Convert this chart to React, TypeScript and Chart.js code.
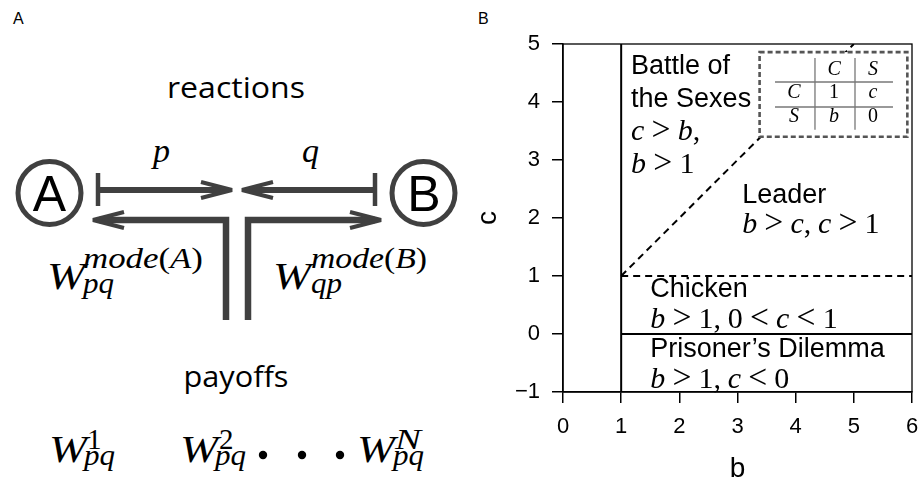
import React, { useEffect, useRef } from "react";
import { Chart, registerables } from "chart.js";

Chart.register(...registerables);

// ---------------- Data (panel B) ----------------
const B_MIN = 0;
const B_MAX = 6;
const C_MIN = -1;
const C_MAX = 5;
const bTicks = [0, 1, 2, 3, 4, 5, 6];
const cTicks = [-1, 0, 1, 2, 3, 4, 5];

// region boundaries in (b, c)
const lineB1 = [{ x: 1, y: -1 }, { x: 1, y: 5 }];
const lineC0 = [{ x: 1, y: 0 }, { x: 6, y: 0 }];
const lineC1 = [{ x: 1, y: 1 }, { x: 6, y: 1 }];
const lineCeqB = [{ x: 1, y: 1 }, { x: 5, y: 5 }];

// region labels
const gameNames = ["Battle of", "the Sexes", "Leader", "Chicken", "Prisoner\u2019s Dilemma"];
const gameConditions = ["c > b,", "b > 1", "b > c, c > 1", "b > 1, 0 < c < 1", "b > 1, c < 0"];

// payoff matrix inset
const payoffHeader = ["C", "S"];
const payoffRows = ["C", "S"];
const payoffCells = [
  ["1", "c"],
  ["b", "0"],
];

// ---------------- Annotation placement (data units) ----------------
const nameAnchors = [
  [1.17, 4.48],
  [1.17, 3.92],
  [3.08, 2.26],
  [1.5, 0.64],
  [1.5, -0.4],
];
const conditionAnchors = [
  [1.17, 3.34],
  [1.17, 2.77],
  [3.08, 1.74],
  [1.5, 0.1],
  [1.5, -0.93],
];
const insetBox = { b0: 3.38, b1: 5.92, c0: 3.4, c1: 4.86 };
const insetColB = [3.97, 4.66, 5.33];
const insetRowC = [4.47, 4.07, 3.66];
const insetHLineC = [4.345, 3.914];
const insetHLineB = [3.645, 5.673];
const insetVLineB = [4.332, 5.02];
const insetVLineC = [3.52, 4.76];

const INK = "#404040";
const SERIF = '"Liberation Serif", serif';
const SANS = '"Liberation Sans", Arial, sans-serif';

function drawMath(ctx: CanvasRenderingContext2D, s: string, x: number, y: number, size: number) {
  let cx = x;
  let prev = "";
  for (const ch of s) {
    if (ch === " ") {
      if (prev === ",") cx += size * 0.22;
      prev = ch;
      continue;
    }
    let pre = 0;
    let post = 0;
    const italic = /[a-zA-Z]/.test(ch);
    let sz = size;
    if (ch === ">" || ch === "<") {
      pre = size * 0.24;
      post = size * 0.24;
      sz = size * 1.12;
    }
    ctx.font = `${italic ? "italic " : ""}${sz}px ${SERIF}`;
    cx += pre;
    ctx.fillText(ch, cx, y);
    cx += ctx.measureText(ch).width + post;
    prev = ch;
  }
}

function drawCentered(ctx: CanvasRenderingContext2D, s: string, x: number, y: number, size: number) {
  const italic = /[a-zA-Z]/.test(s);
  ctx.font = `${italic ? "italic " : ""}${size}px ${SERIF}`;
  ctx.textAlign = "center";
  ctx.fillText(s, x, y);
  ctx.textAlign = "left";
}

const overlayPlugin = {
  id: "overlay",
  afterDatasetsDraw(chart: any) {
    const { ctx, chartArea: a } = chart;
    const X = (v: number) => chart.scales.x.getPixelForValue(v);
    const Y = (v: number) => chart.scales.y.getPixelForValue(v);
    ctx.save();
    // frame
    ctx.strokeStyle = "#000";
    ctx.lineWidth = 1.3;
    ctx.strokeRect(a.left, a.top, a.right - a.left, a.bottom - a.top);

    // inset box
    const bx0 = X(insetBox.b0);
    const bx1 = X(insetBox.b1);
    const by0 = Y(insetBox.c1);
    const by1 = Y(insetBox.c0);
    ctx.fillStyle = "#fff";
    ctx.fillRect(bx0, by0, bx1 - bx0, by1 - by0);
    ctx.setLineDash([5, 3]);
    ctx.strokeStyle = "#555";
    ctx.lineWidth = 2.6;
    ctx.strokeRect(bx0, by0, bx1 - bx0, by1 - by0);
    ctx.setLineDash([]);

    // table lines
    ctx.strokeStyle = "#777";
    ctx.lineWidth = 1.3;
    insetHLineC.forEach((c) => {
      ctx.beginPath();
      ctx.moveTo(X(insetHLineB[0]), Y(c));
      ctx.lineTo(X(insetHLineB[1]), Y(c));
      ctx.stroke();
    });
    insetVLineB.forEach((b) => {
      ctx.beginPath();
      ctx.moveTo(X(b), Y(insetVLineC[1]));
      ctx.lineTo(X(b), Y(insetVLineC[0]));
      ctx.stroke();
    });

    // table text
    ctx.fillStyle = "#000";
    ctx.textBaseline = "alphabetic";
    payoffHeader.forEach((h, j) => drawCentered(ctx, h, X(insetColB[j + 1]), Y(insetRowC[0]), 20));
    payoffRows.forEach((r, i) => {
      drawCentered(ctx, r, X(insetColB[0]), Y(insetRowC[i + 1]), 20);
      payoffCells[i].forEach((v, j) => drawCentered(ctx, v, X(insetColB[j + 1]), Y(insetRowC[i + 1]), 20));
    });

    // region names
    ctx.textAlign = "left";
    gameNames.forEach((n, i) => {
      ctx.font = `27px ${SANS}`;
      ctx.fillText(n, X(nameAnchors[i][0]), Y(nameAnchors[i][1]));
    });
    gameConditions.forEach((s, i) => {
      drawMath(ctx, s, X(conditionAnchors[i][0]), Y(conditionAnchors[i][1]), 30);
    });
    ctx.restore();
  },
};

function PanelB() {
  const ref = useRef<HTMLCanvasElement | null>(null);
  useEffect(() => {
    if (!ref.current) return;
    const lineStyle = {
      showLine: true,
      borderColor: "#000",
      borderWidth: 2,
      pointRadius: 0,
      fill: false,
    };
    const chart = new Chart(ref.current, {
      type: "scatter",
      data: {
        datasets: [
          { ...lineStyle, data: lineB1 },
          { ...lineStyle, data: lineC0 },
          { ...lineStyle, data: lineC1, borderDash: [7, 5] },
          { ...lineStyle, data: lineCeqB, borderDash: [7, 5] },
        ],
      },
      options: {
        animation: false,
        responsive: false,
        events: [],
        layout: { padding: { top: 44, right: 7, left: 0, bottom: 0 } },
        plugins: { legend: { display: false }, tooltip: { enabled: false } },
        scales: {
          x: {
            type: "linear",
            min: B_MIN,
            max: B_MAX,
            afterFit(s: any) {
              s.height = 95;
              s.paddingLeft = 0;
              s.paddingRight = 0;
            },
            afterBuildTicks(s: any) {
              s.ticks = bTicks.map((v) => ({ value: v }));
            },
            ticks: {
              color: "#000",
              font: { family: SANS, size: 22 },
              padding: 11,
              maxRotation: 0,
              callback: (v: any) => String(v).replace("-", "\u2212"),
            },
            grid: { drawOnChartArea: false, drawTicks: true, tickLength: 11, color: "#000", lineWidth: 1.5 },
            border: { display: true, color: "#000", width: 1.5 },
            title: {
              display: true,
              text: "b",
              color: "#000",
              font: { family: SANS, size: 28, lineHeight: 1 },
              padding: { top: 0, bottom: 4 },
            },
          },
          y: {
            type: "linear",
            min: C_MIN,
            max: C_MAX,
            afterFit(s: any) {
              s.width = 93;
              s.paddingTop = 0;
              s.paddingBottom = 0;
            },
            afterBuildTicks(s: any) {
              s.ticks = cTicks.map((v) => ({ value: v }));
            },
            ticks: {
              color: "#000",
              font: { family: SANS, size: 22 },
              padding: 12,
              callback: (v: any) => String(v).replace("-", "\u2212"),
            },
            grid: { drawOnChartArea: false, drawTicks: true, tickLength: 11, color: "#000", lineWidth: 1.5 },
            border: { display: true, color: "#000", width: 1.5 },
            title: {
              display: true,
              text: "c",
              color: "#000",
              font: { family: SANS, size: 28, lineHeight: 1 },
              padding: { top: 4, bottom: 0 },
            },
          },
        },
      } as any,
      plugins: [overlayPlugin],
    });
    return () => chart.destroy();
  }, []);
  return (
    <canvas
      ref={ref}
      width={449}
      height={487}
      style={{ position: "absolute", left: 470, top: 0, width: 449, height: 487 }}
    />
  );
}

function WSym(props: {
  x: number;
  y: number;
  sup: React.ReactNode;
  sub: string;
  supDx: number;
  supDy: number;
  supW?: number;
  subDx: number;
  subDy: number;
  subW?: number;
}) {
  const { x, y, sup, sub, supDx, supDy, supW, subDx, subDy, subW } = props;
  return (
    <g fontFamily={SERIF} fill="#000">
      <text x={x} y={y} fontSize={38} fontStyle="italic" textLength={38} lengthAdjust="spacingAndGlyphs">
        W
      </text>
      <text
        x={x + supDx}
        y={y + supDy}
        fontSize={29}
        {...(supW ? { textLength: supW, lengthAdjust: "spacingAndGlyphs" } : {})}
      >
        {sup}
      </text>
      <text
        x={x + subDx}
        y={y + subDy}
        fontSize={29}
        fontStyle="italic"
        {...(subW ? { textLength: subW, lengthAdjust: "spacingAndGlyphs" } : {})}
      >
        {sub}
      </text>
    </g>
  );
}

function PanelA() {
  const it = (s: string) => <tspan fontStyle="italic">{s}</tspan>;
  return (
    <svg width={919} height={487} style={{ position: "absolute", left: 0, top: 0 }}>
      <text x={13} y={24} fontFamily={SANS} fontSize={16} fill="#000">
        A
      </text>
      <text x={478} y={24} fontFamily={SANS} fontSize={16} fill="#000">
        B
      </text>
      <text
        x={236}
        y={98}
        textAnchor="middle"
        fontFamily='"Open Sans", sans-serif'
        fontSize={30}
        textLength={138}
        lengthAdjust="spacingAndGlyphs"
      >
        reactions
      </text>

      {/* nodes */}
      <circle cx={49.5} cy={193} r={31.5} fill="none" stroke={INK} strokeWidth={5} />
      <text x={49.5} y={211} textAnchor="middle" fontFamily={SANS} fontSize={50} fill="#000">
        A
      </text>
      <circle cx={423.5} cy={193} r={31.5} fill="none" stroke={INK} strokeWidth={5} />
      <text x={424} y={211} textAnchor="middle" fontFamily={SANS} fontSize={50} fill="#000">
        B
      </text>

      {/* p arrow */}
      <line x1={98} y1={190} x2={226} y2={190} stroke={INK} strokeWidth={6} />
      <line x1={98} y1={173} x2={98} y2={206} stroke={INK} strokeWidth={4.5} />
      <polyline points="201,182 232,190 201,198" fill="none" stroke={INK} strokeWidth={4} strokeLinejoin="miter" />
      {/* q arrow */}
      <line x1={375} y1={190} x2={248} y2={190} stroke={INK} strokeWidth={6} />
      <line x1={375} y1={173} x2={375} y2={206} stroke={INK} strokeWidth={4.5} />
      <polyline points="273,182 242,190 273,198" fill="none" stroke={INK} strokeWidth={4} strokeLinejoin="miter" />
      {/* payoff arrows */}
      <path d="M226,320 V220 H99" fill="none" stroke={INK} strokeWidth={6.5} strokeLinejoin="miter" />
      <polyline points="124,212 93,220 124,228" fill="none" stroke={INK} strokeWidth={4} strokeLinejoin="miter" />
      <path d="M248,320 V220 H375" fill="none" stroke={INK} strokeWidth={6.5} strokeLinejoin="miter" />
      <polyline points="350,212 381,220 350,228" fill="none" stroke={INK} strokeWidth={4} strokeLinejoin="miter" />

      <text x={153} y={162} fontFamily={SERIF} fontSize={34} fontStyle="italic">
        p
      </text>
      <text x={302} y={162} fontFamily={SERIF} fontSize={34} fontStyle="italic">
        q
      </text>

      <WSym
        x={47}
        y={289}
        sup={<>{it("mode")}({it("A")})</>}
        supDx={36}
        supDy={-21}
        supW={120}
        sub="pq"
        subDx={36}
        subDy={4}
        subW={31}
      />
      <WSym
        x={273}
        y={289}
        sup={<>{it("mode")}({it("B")})</>}
        supDx={38}
        supDy={-21}
        supW={116}
        sub="qp"
        subDx={38}
        subDy={4}
        subW={31}
      />

      <text
        x={236}
        y={387}
        textAnchor="middle"
        fontFamily='"Open Sans", sans-serif'
        fontSize={30}
        textLength={105}
        lengthAdjust="spacingAndGlyphs"
      >
        payoffs
      </text>

      <WSym x={49} y={462} sup="1" supDx={38} supDy={-13} sub="pq" subDx={35} subDy={3} subW={31} />
      <WSym x={180} y={462} sup="2" supDx={39} supDy={-13} sub="pq" subDx={35} subDy={3} subW={31} />
      <circle cx={263} cy={455} r={4.2} fill="#000" />
      <circle cx={302} cy={455} r={4.2} fill="#000" />
      <circle cx={340} cy={455} r={4.2} fill="#000" />
      <WSym
        x={357}
        y={462}
        sup={it("N")}
        supDx={38}
        supDy={-13}
        supW={26}
        sub="pq"
        subDx={36}
        subDy={3}
        subW={31}
      />
    </svg>
  );
}

export default function App() {
  return (
    <div
      style={{
        position: "fixed",
        left: 0,
        top: 0,
        width: 919,
        height: 487,
        background: "#fff",
        overflow: "hidden",
      }}
    >
      <PanelA />
      <PanelB />
    </div>
  );
}
